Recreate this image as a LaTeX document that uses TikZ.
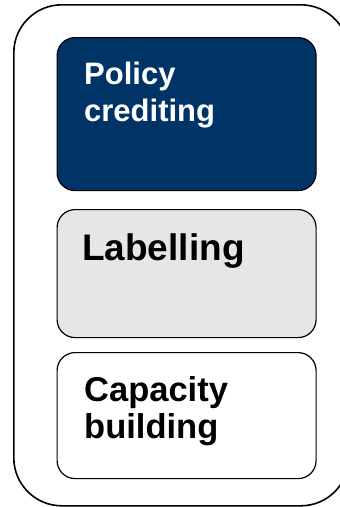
\documentclass[tikz,border=0pt]{standalone}
\usepackage{fontspec}
\setmainfont{Liberation Sans}
\definecolor{navy}{RGB}{0,51,102}
\definecolor{lightgray}{RGB}{230,230,230}
\tikzset{
  outerbox/.style={draw=black, line width=1.6pt, rounded corners=48pt, inner sep=0pt, anchor=north west},
  itembox/.style={draw=black, line width=1.2pt, rounded corners=18pt, inner sep=0pt, anchor=north west, minimum width=259pt},
  itemtext/.style={inner sep=0pt, anchor=north west, align=left}
}
\begin{document}
\begin{tikzpicture}[x=1pt,y=-1pt]
\useasboundingbox (0,0) rectangle (340,507);
\clip (0,0) rectangle (340,507);
\node[outerbox, minimum width=335pt, minimum height=501pt] (outer) at (13,4) {};
\node[itembox, fill=navy, minimum height=153pt] (policy) at (56.5,37) {};
\node[itembox, fill=lightgray, minimum height=128pt] (label) at (56.5,209) {};
\node[itembox, fill=white, minimum height=126pt] (capacity) at (56.5,352) {};
\node[itemtext, text=white, font=\fontsize{31}{37}\selectfont\bfseries] (policyt) at (84,61.5) {Policy\\crediting};
\node[itemtext, font=\fontsize{37}{40}\selectfont\bfseries] (labelt) at (82,233) {Labelling};
\node[itemtext, font=\fontsize{34.5}{37}\selectfont\bfseries] (capt) at (84,376) {Capacity\\building};
\end{tikzpicture}
\end{document}
